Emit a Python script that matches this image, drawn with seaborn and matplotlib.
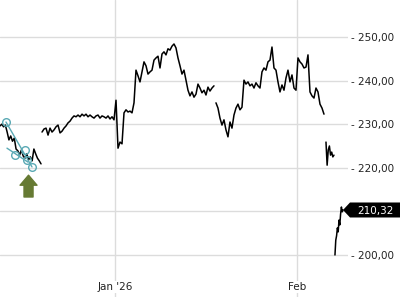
import numpy as np
import pandas as pd
import matplotlib
matplotlib.use("Agg")
import matplotlib.pyplot as plt
import matplotlib.transforms as mtransforms
from matplotlib.patches import Polygon
import seaborn as sns

# ---- data (time in days counted from 1 Jan 2026; negative = Dec 2025) ----
# trading sessions (start day, end day) separated by visible gaps
session_start = [-19.59, -12.43, 17.20, 35.94, 37.47]
session_end = [-12.60, 16.86, 35.60, 37.30, 38.84]

prices_a = [229.6, 230.0, 229.4, 229.8, 228.2, 226.4, 227.3, 226.1, 226.8, 224.3,
            223.9, 222.9, 224.1, 222.7, 222.2, 223.2, 221.8, 222.5, 221.6, 224.3,
            223.2, 222.2, 221.6, 220.9]
prices_b = [228.2, 228.9, 229.1, 227.5, 229.1, 228.2, 228.7, 229.4, 229.8, 228.0,
            228.4, 229.1, 229.6, 230.3, 230.7, 231.4, 231.9, 231.7, 232.1, 231.7,
            232.3, 231.9, 232.3, 231.7, 232.1, 231.7, 231.4, 231.9, 232.1, 231.4,
            231.9, 231.7, 231.4, 231.9, 231.2, 231.7, 231.0, 235.5, 224.5, 225.9,
            225.5, 232.6, 233.3, 232.8, 233.0, 232.6, 234.9, 242.4, 241.1, 239.7,
            242.0, 244.3, 243.4, 241.5, 242.0, 242.4, 244.7, 245.2, 245.6, 242.9,
            246.1, 246.6, 245.9, 247.3, 247.0, 247.9, 248.4, 247.5, 245.2, 243.4,
            241.5, 242.4, 240.1, 237.8, 236.5, 237.4, 236.2, 236.9, 239.2, 238.3,
            237.2, 237.8, 236.7, 238.5, 237.6, 238.3, 238.8]
prices_c = [234.9, 233.7, 231.4, 229.8, 231.0, 228.7, 227.1, 230.5, 229.1, 232.1,
            233.7, 234.6, 233.3, 233.9, 240.1, 239.2, 239.7, 238.8, 239.2, 238.3,
            239.5, 238.8, 238.3, 242.0, 242.9, 242.4, 244.3, 244.7, 247.7, 242.9,
            242.4, 239.7, 237.4, 239.0, 237.8, 240.6, 242.4, 239.7, 241.3, 238.3,
            237.8, 245.2, 244.3, 243.8, 242.9, 243.1, 245.9, 237.4, 236.5, 236.0,
            238.3, 237.4, 234.6, 233.7, 232.3]
prices_d = [225.9, 220.6, 224.1, 225.0, 222.9, 223.6, 222.5, 222.9]
prices_e = [200.0, 203.4, 204.4, 206.2, 205.3, 208.0, 206.9, 209.4, 211.0, 209.9, 210.32]
sessions = [prices_a, prices_b, prices_c, prices_d, prices_e]

last_price = 210.32
last_price_label = "210,32"

y_ticks = [200, 210, 220, 230, 240, 250]
x_tick_pos = [0, 31]
x_tick_labels = ["Jan '26", "Feb"]

# drawing-tool annotation (touch points of a trend channel)
touch_days = [-18.57, -17.03, -15.33, -14.99, -14.14]
touch_vals = [230.5, 222.9, 224.1, 221.8, 220.2]
trend1_days = [-18.57, -14.14]
trend1_vals = [230.5, 220.2]
trend2_days = [-18.40, -14.82]
trend2_vals = [224.5, 221.3]
signal_day = -14.73
signal_from = 213.3
signal_to = 218.3

# ---- build table ----
rows = []
for i, vals in enumerate(sessions):
    t = np.linspace(session_start[i], session_end[i], len(vals))
    rows.append(pd.DataFrame({"day": t, "price": vals, "seg": i}))
df = pd.concat(rows, ignore_index=True)

# ---- plot ----
sns.set_theme(style="white")
plt.rcParams["font.family"] = ["DejaVu Sans"]

fig = plt.figure(figsize=(4, 3), dpi=100)
ax = fig.add_axes([0, 3 / 300, 348 / 400, 297 / 300])
ax.set_facecolor("white")

sns.lineplot(data=df, x="day", y="price", units="seg", estimator=None, sort=False,
             color="black", lw=1.1, ax=ax, legend=False)

ax.set_xlim(-19.59, 39.69)
ax.set_ylim(190.36, 258.49)
for s in ax.spines.values():
    s.set_visible(False)
ax.set_xlabel("")
ax.set_ylabel("")

ax.grid(True, color="#dcdcdc", lw=1)

ax.set_yticks(y_ticks)
# the 210 label sits under the last-price tag, so it is left blank
ax.set_yticklabels(["" if abs(v - last_price) < 5 else ("- %.2f" % v).replace(".", ",")
                    for v in y_ticks])
ax.yaxis.tick_right()
ax.tick_params(axis="y", length=0, pad=2, labelsize=7.5, labelcolor="#222222")

ax.set_xticks(x_tick_pos)
ax.set_xticklabels(x_tick_labels, bbox=dict(facecolor="white", edgecolor="none", pad=1))
ax.tick_params(axis="x", direction="in", length=4, width=1, color="#333333",
               pad=-10.5, labelsize=7.5, labelcolor="#222222")

teal = "#5aa9b4"
ax.plot(trend1_days, trend1_vals, color=teal, lw=1)
ax.plot(trend2_days, trend2_vals, color=teal, lw=1)
ax.plot(touch_days, touch_vals, "o", mfc="none", mec=teal, ms=5.5, mew=1)

ax.annotate("", xy=(signal_day, signal_to), xytext=(signal_day, signal_from),
            arrowprops=dict(arrowstyle="simple,head_length=0.72,head_width=1.22,tail_width=0.65",
                            color="#667a33", shrinkA=0, shrinkB=0, mutation_scale=10))

# price tag for the last price
_, ytag = ax.transData.transform((0, last_price))
x_tip = ax.bbox.x1 - 5
x_box = ax.bbox.x1 + 2
x_right = fig.bbox.x1
h = 7.5
tag = Polygon([(x_tip, ytag), (x_box, ytag + h), (x_right, ytag + h),
               (x_right, ytag - h), (x_box, ytag - h)], closed=True,
              facecolor="black", edgecolor="none", transform=mtransforms.IdentityTransform())
fig.add_artist(tag)
fig.text((x_box + x_right) / 2, ytag, last_price_label, color="white", fontsize=7.5,
         ha="center", va="center_baseline", transform=mtransforms.IdentityTransform())

fig.savefig("out.png", dpi=100)
